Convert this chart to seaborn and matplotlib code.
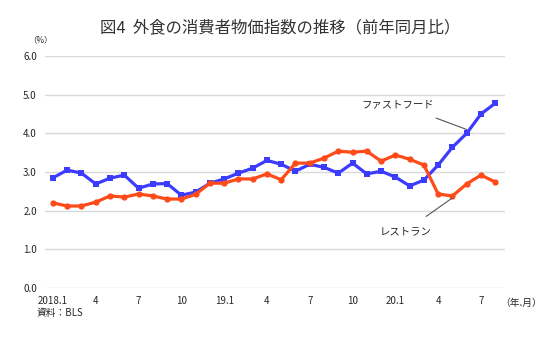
import numpy as np
import pandas as pd
import matplotlib
matplotlib.use("Agg")
import matplotlib.pyplot as plt
import seaborn as sns

# ==========================================
# Data (year-on-year %, 2018.1 - 2020.8)
# ==========================================
months = list(range(32))
fast_food = [2.85, 3.05, 2.97, 2.69, 2.84, 2.92, 2.58, 2.69, 2.70, 2.40, 2.48, 2.71,
             2.82, 2.97, 3.10, 3.30, 3.20, 3.02, 3.20, 3.12, 2.97, 3.23, 2.95, 3.02,
             2.87, 2.64, 2.79, 3.18, 3.64, 4.00, 4.50, 4.78]
restaurant = [2.20, 2.12, 2.12, 2.22, 2.38, 2.35, 2.43, 2.38, 2.30, 2.30, 2.42, 2.71,
              2.71, 2.82, 2.82, 2.95, 2.80, 3.23, 3.23, 3.36, 3.54, 3.51, 3.54, 3.28,
              3.44, 3.33, 3.18, 2.43, 2.38, 2.69, 2.92, 2.74]
tick_pos = [0, 3, 6, 9, 12, 15, 18, 21, 24, 27, 30]
tick_labels = ["2018.1", "4", "7", "10", "19.1", "4", "7", "10", "20.1", "4", "7"]
yticks = [0.0, 1.0, 2.0, 3.0, 4.0, 5.0, 6.0]

df = pd.DataFrame({"month": months, "fast_food": fast_food, "restaurant": restaurant})

sns.set_style("white")
plt.rcParams['font.family'] = ['Noto Sans CJK JP', 'DejaVu Sans']

fig = plt.figure(figsize=(5.57, 3.55), dpi=100)
ax = fig.add_axes([0.081, 0.189, 0.826, 0.653])

blue = "#3C3CFF"
red = "#FF4A1A"
sns.lineplot(data=df, x="month", y="fast_food", ax=ax, color=blue, linewidth=2.3,
             marker="s", markersize=4.5, markeredgewidth=0, zorder=3)
sns.lineplot(data=df, x="month", y="restaurant", ax=ax, color=red, linewidth=2.3,
             marker="o", markersize=4.5, markeredgewidth=0, zorder=3)

ax.set_xlim(-0.55, 31.7)
ax.set_ylim(0, 6)
ax.set_yticks(yticks)
ax.set_yticklabels([f"{v:.1f}" for v in yticks], fontsize=7)
ax.set_xticks(tick_pos)
ax.set_xticklabels(tick_labels, fontsize=7)
ax.tick_params(length=0, pad=6)
ax.grid(axis='y', color="#D9D9D9", linewidth=1)
ax.set_xlabel("")
ax.set_ylabel("")
for s in ax.spines.values():
    s.set_visible(False)

# series labels with leader lines
ax.annotate("ファストフード", xy=(29, fast_food[29] + 0.1), xytext=(24.2, 4.76),
            fontsize=7.5, ha="center", va="center",
            arrowprops=dict(arrowstyle="-", color="#555555", linewidth=0.8,
                            shrinkA=12, shrinkB=0))
ax.annotate("レストラン", xy=(28, restaurant[28] - 0.05), xytext=(24.7, 1.47),
            fontsize=7.5, ha="center", va="center",
            arrowprops=dict(arrowstyle="-", color="#555555", linewidth=0.8,
                            shrinkA=8, shrinkB=0))

fig.text(0.503, 0.922, "図4  外食の消費者物価指数の推移（前年同月比）", fontsize=11.8,
         ha="center", va="center", color="#333333")
fig.text(0.072, 0.887, "（%）", fontsize=6, ha="center", va="center")
fig.text(0.936, 0.146, "（年.月）", fontsize=7, ha="center", va="center")
fig.text(0.065, 0.117, "資料：BLS", fontsize=7, ha="left", va="center")

fig.savefig("out.png", dpi=100)
